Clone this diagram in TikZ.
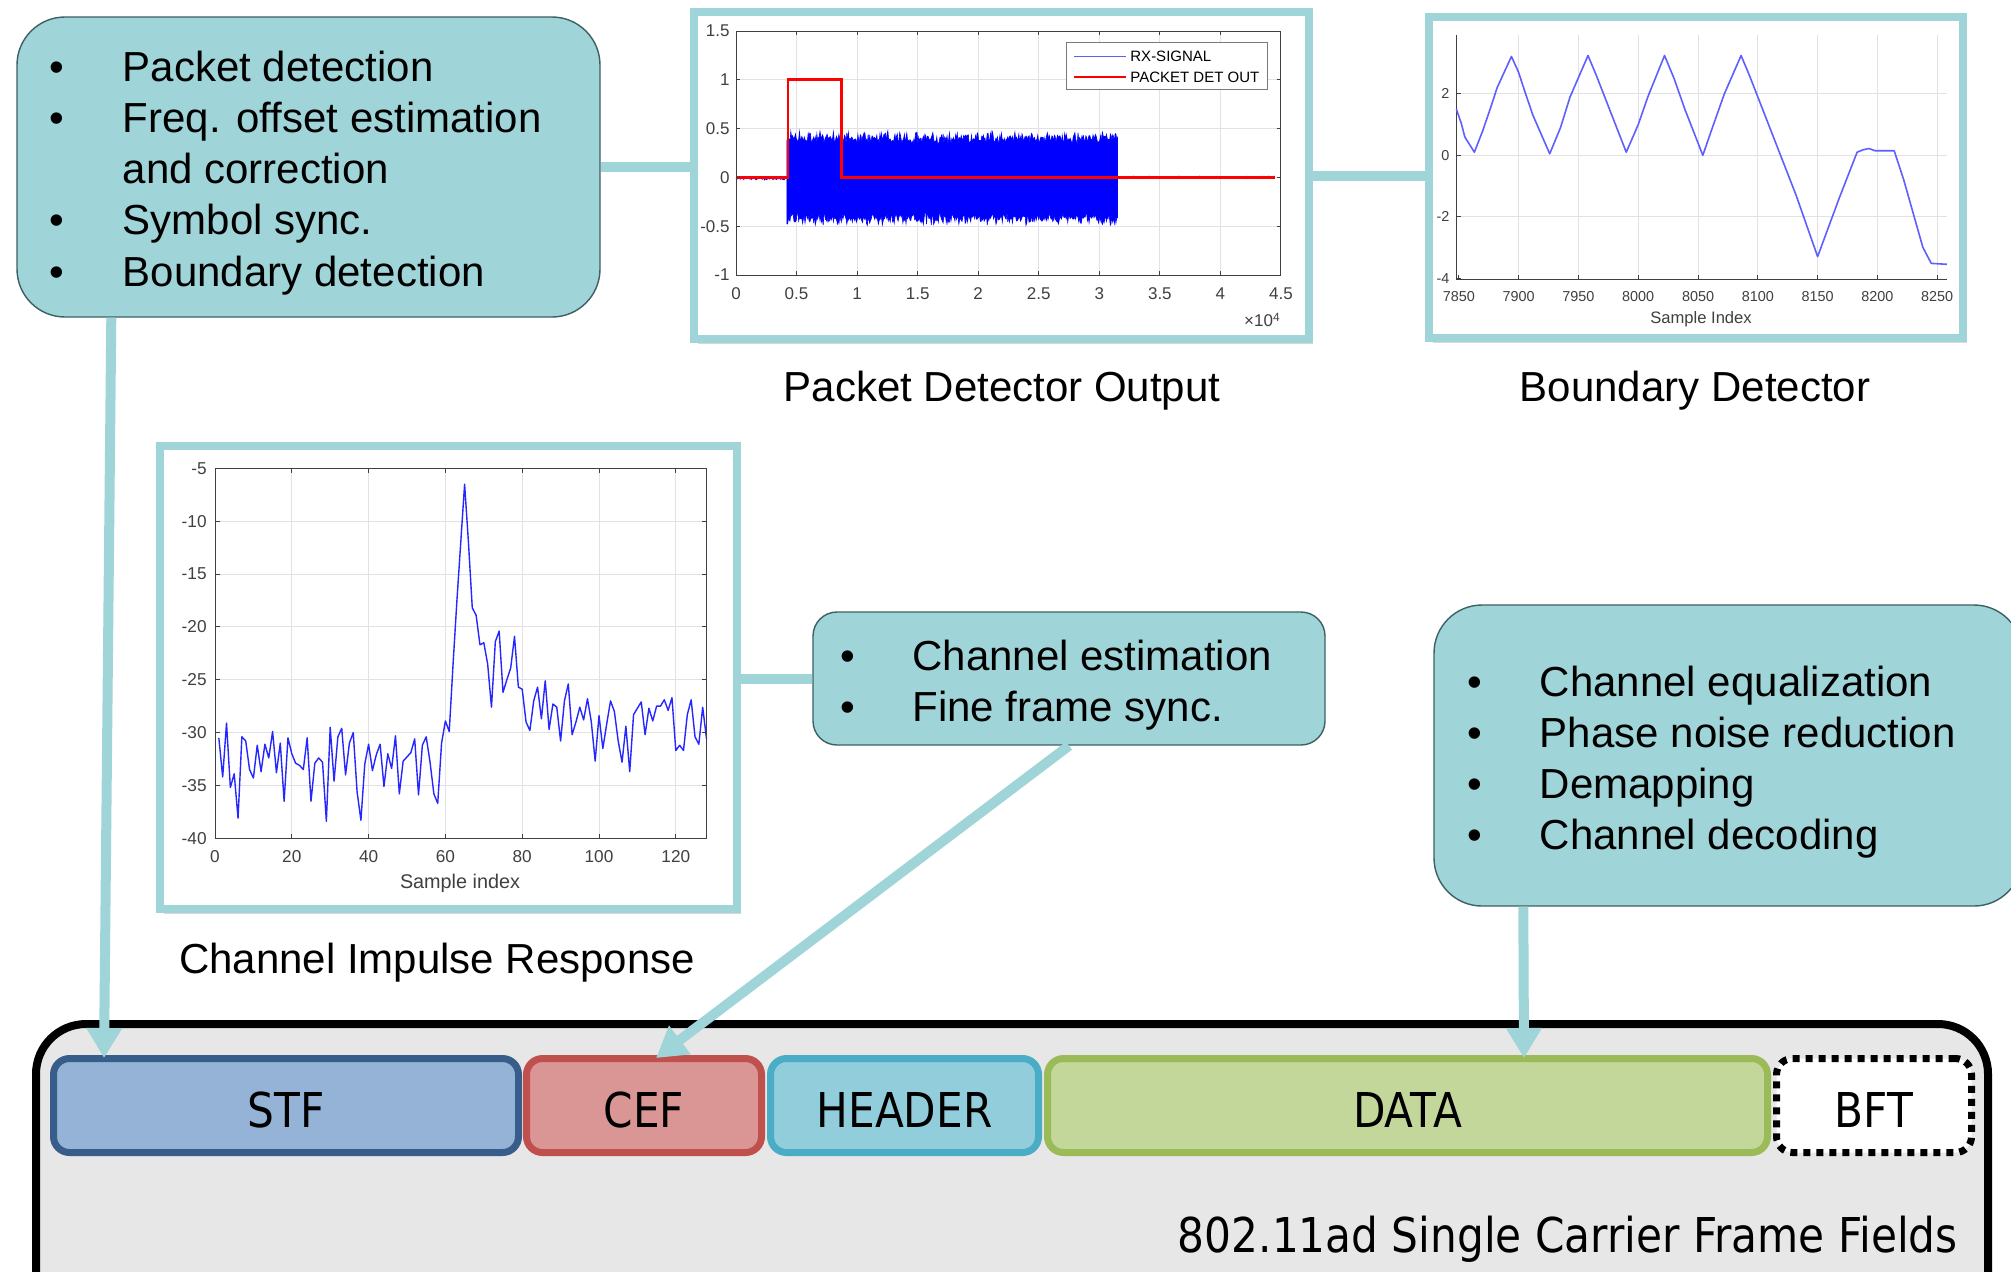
\documentclass[tikz,border=0pt]{standalone}
\usepackage{fontspec}
\setmainfont{Liberation Sans}
\newfontfamily\fieldfont[FakeStretch=0.88]{DejaVu Sans}
\usetikzlibrary{arrows.meta,calc,shadows}
\definecolor{teal1}{RGB}{159,212,216}
\definecolor{bubbleedge}{RGB}{60,96,100}
\definecolor{stfF}{RGB}{149,179,215}
\definecolor{stfD}{RGB}{56,93,138}
\definecolor{cefF}{RGB}{218,150,148}
\definecolor{cefD}{RGB}{192,80,77}
\definecolor{hdrF}{RGB}{146,205,220}
\definecolor{hdrD}{RGB}{75,172,198}
\definecolor{datF}{RGB}{196,215,155}
\definecolor{datD}{RGB}{155,187,89}
\definecolor{framebg}{RGB}{231,231,231}
\definecolor{axgray}{RGB}{64,64,64}
\definecolor{gridgray}{RGB}{226,226,226}
\definecolor{sigblue}{RGB}{0,0,255}
\definecolor{lightsig}{RGB}{95,95,255}
\begin{document}
\begin{tikzpicture}[x=0.5pt,y=-0.5pt,
  bubble/.style={draw=bubbleedge, line width=0.7pt, fill=teal1, inner sep=0pt},
  btext/.style={inner sep=0pt, anchor=north west, font=\fontsize{21}{25.6}\selectfont},
  plotframe/.style={draw=teal1, line width=4pt, fill=white, inner sep=0pt,
     drop shadow={shadow xshift=2pt, shadow yshift=-2.5pt, opacity=0.3}},
  field/.style={line width=3.5pt, rounded corners=8pt, minimum height=47pt, inner sep=0pt,
     font=\fieldfont\fontsize{24}{28}\selectfont, text height=22pt, text depth=0pt},
  link/.style={draw=teal1, line width=5pt},
  arr/.style={draw=teal1, line width=5pt, -{Triangle[length=15pt,width=17pt]}},
  capt/.style={inner sep=0pt, anchor=base, font=\fontsize{21}{25}\selectfont},
  grid line/.style={draw=gridgray, line width=0.5pt},
  axis line/.style={draw=axgray, line width=0.5pt}
]
\useasboundingbox (0,0) rectangle (2011,1271);
\clip (0,0) rectangle (2011,1271);
\fill[white] (0,0) rectangle (2011,1271);

% ---------- frame container ----------
\draw[line width=4pt, fill=framebg, rounded corners=25pt] (36,1024) rectangle (1988,1340);
\node[field, draw=stfD, fill=stfF, minimum width=232.5pt] (stf) at (286,1105.5) {STF};
\node[field, draw=cefD, fill=cefF, minimum width=117.5pt] (cef) at (644,1105.5) {CEF};
\node[field, draw=hdrD, fill=hdrF, minimum width=134pt] (hdr) at (904.5,1105.5) {HEADER};
\node[field, draw=datD, fill=datF, minimum width=360pt] (dat) at (1407.5,1105.5) {DATA};
\node[field, draw=black, fill=white, dash pattern=on 3.5pt off 3pt, minimum width=97.5pt] (bft) at (1874,1105.5) {BFT};
\node[inner sep=0pt, anchor=base east, font=\fieldfont\fontsize{24}{28}\selectfont] (sclab) at (1958,1252.5) {802.11ad Single Carrier Frame Fields};

% ---------- plot frames ----------
\node[plotframe, minimum width=307.5pt, minimum height=163.5pt] (pd) at (1001.5,175.5) {};
\node[plotframe, minimum width=267pt, minimum height=160.5pt] (bd) at (1696,177.5) {};
\node[plotframe, minimum width=288.5pt, minimum height=231.5pt] (cir) at (448.5,677.5) {};

% ---------- packet detector plot ----------
\begin{scope}[shift={(368pt,-88.7pt)}, x=60.55pt, y=48.8pt,
  ticklab/.style={inner sep=0pt, text=axgray, font=\fontsize{8.5}{9}\selectfont}]
  \foreach \gx in {0.5,1,1.5,2,2.5,3,3.5,4} \draw[grid line] (\gx,-1) -- (\gx,1.5);
  \foreach \gy in {-0.5,0,0.5,1} \draw[grid line] (0,\gy) -- (4.5,\gy);
  \pgfmathsetseed{7}
  \draw[sigblue, line width=0.4pt] plot[domain=0:0.42, samples=60] (\x,{-0.012+0.012*rand});
  \filldraw[sigblue, line width=0.3pt] plot[domain=0.42:3.15, samples=420] (\x,{0.40+0.045*rand+0.035*rand})
     -- plot[domain=3.15:0.42, samples=420] (\x,{-0.42+0.045*rand+0.035*rand}) -- cycle;
  \draw[sigblue, line width=0.4pt] plot[domain=3.15:4.45, samples=160] (\x,{0.012*rand});
  \draw[red, line width=1.4pt] (0,0) -- (0.43,0) -- (0.43,1) -- (0.87,1) -- (0.87,0) -- (4.45,0);
  \draw[axis line] (0,-1) rectangle (4.5,1.5);
  \foreach \gx in {0,0.5,1,1.5,2,2.5,3,3.5,4,4.5} {
    \draw[axis line] (\gx,-1) -- ++(0,0.04);
    \draw[axis line] (\gx,1.5) -- ++(0,-0.04);
    \node[ticklab, anchor=north] at ([yshift=-6pt]\gx,-1) {\gx};
  }
  \foreach \gy in {-1,-0.5,0,0.5,1,1.5} {
    \draw[axis line] (0,\gy) -- ++(0.03,0);
    \draw[axis line] (4.5,\gy) -- ++(-0.03,0);
    \node[ticklab, anchor=east] at ([xshift=-3pt]0,\gy) {\gy};
  }
\end{scope}
\node[draw=axgray!70, line width=0.5pt, fill=white, minimum width=100.5pt, minimum height=23.5pt, inner sep=0pt] (leg) at (1166.5,65.5) {};
\draw[lightsig, line width=0.5pt] (1074,56) -- (1126,56);
\node[inner sep=0pt, anchor=west, font=\fontsize{7.5}{9}\selectfont] (legt1) at (1130,56) {RX-SIGNAL};
\draw[red, line width=1.4pt] (1074,77) -- (1126,77);
\node[inner sep=0pt, anchor=west, font=\fontsize{7.5}{9}\selectfont] (legt2) at (1130,77) {PACKET DET OUT};
\node[inner sep=0pt, anchor=east, text=axgray, font=\fontsize{8.5}{9}\selectfont] (xexp) at (1281,320) {×10\textsuperscript{4}};

% ---------- boundary detector plot ----------
\begin{scope}[shift={(729.4pt,-77.65pt)}, x=0.598pt, y=15.35pt,
  ticklab/.style={inner sep=0pt, text=axgray, font=\fontsize{7.2}{8}\selectfont}]
  \foreach \gx in {50,100,150,200,250,300,350,400} \draw[grid line] (\gx,-4.04) -- (\gx,3.92);
  \foreach \gy in {-2,0,2} \draw[grid line] (-2,\gy) -- (408,\gy);
  \draw[axis line] (-2,3.92) -- (-2,-4.04) -- (408,-4.04);
  \foreach \gx/\lab in {0/7850,50/7900,100/7950,150/8000,200/8050,250/8100,300/8150,350/8200,400/8250} {
    \draw[axis line] (\gx,-4.04) -- ++(0,0.13);
    \node[ticklab, anchor=north] at ([yshift=-6pt]\gx,-4.04) {\lab};
  }
  \foreach \gy in {-4,-2,0,2} {
    \draw[axis line] (-2,\gy) -- ++(4,0);
    \node[ticklab, anchor=east] at ([xshift=-3.3pt]-2,\gy) {\gy};
  }
  \draw[lightsig, line width=0.8pt, line join=round] (-2,1.5) -- (2,1.05) -- (5,0.6) -- (13,0.1) -- (20,0.8) -- (27,1.6)
    -- (32,2.2) -- (44,3.22) -- (50,2.7) -- (55,2.1) -- (62,1.3) -- (76,0.05) -- (85,0.9) -- (93,1.9)
    -- (108,3.25) -- (115,2.6) -- (126,1.5) -- (140,0.1) -- (150,1.0) -- (158,1.9) -- (172,3.25)
    -- (180,2.5) -- (189,1.5) -- (204,0.0) -- (212,0.9) -- (222,2.0) -- (236,3.25) -- (243,2.6)
    -- (262,0.7) -- (282,-1.3) -- (300,-3.3) -- (318,-1.4) -- (333,0.1) -- (338,0.18) -- (343,0.22)
    -- (348,0.15) -- (364,0.15) -- (372,-0.8) -- (380,-1.9) -- (388,-3.0) -- (395,-3.52) -- (408,-3.55);
\end{scope}
\node[inner sep=0pt, text=axgray, font=\fontsize{8.3}{9}\selectfont] (bdx) at (1701,319) {Sample Index};

% ---------- channel impulse response plot ----------
\begin{scope}[shift={(107.5pt,-207.725pt)}, x=1.92pt, y=5.285pt,
  ticklab/.style={inner sep=0pt, text=axgray, font=\fontsize{8.6}{9}\selectfont}]
  \foreach \gx in {20,40,60,80,100,120} \draw[grid line] (\gx,-40) -- (\gx,-5);
  \foreach \gy in {-35,-30,-25,-20,-15,-10} \draw[grid line] (0,\gy) -- (128,\gy);
  \draw[sigblue!85!white, line width=0.7pt, line join=round] plot coordinates {
   (1,-30.5) (2,-34.2) (3,-29.1) (4,-35.2) (5,-33.9) (6,-38.1) (7,-30.4) (8,-30.8) (9,-33.5) (10,-34.3)
   (11,-31.2) (12,-33.7) (13,-31.1) (14,-32.4) (15,-29.9) (16,-33.8) (17,-31.0) (18,-36.5) (19,-30.5) (20,-32.0)
   (21,-32.9) (22,-33.1) (23,-33.5) (24,-30.5) (25,-36.5) (26,-32.9) (27,-32.4) (28,-32.8) (29,-38.4) (30,-29.5)
   (31,-34.6) (32,-30.4) (33,-29.6) (34,-34.0) (35,-31.0) (36,-30.0) (37,-35.6) (38,-38.3) (39,-33.0) (40,-31.1)
   (41,-33.6) (42,-32.1) (43,-31.1) (44,-35.1) (45,-32.0) (46,-33.4) (47,-30.3) (48,-35.8) (49,-32.7) (50,-32.3)
   (51,-31.9) (52,-30.6) (53,-35.9) (54,-31.2) (55,-30.4) (56,-32.8) (57,-35.8) (58,-36.7) (59,-31.0) (60,-28.9)
   (61,-29.9) (62,-23.5) (63,-17.5) (64,-12.0) (65,-6.5) (66,-12.0) (67,-18.2) (68,-18.9) (69,-21.7) (70,-21.5)
   (71,-23.5) (72,-27.6) (73,-21.4) (74,-20.4) (75,-26.2) (76,-25.0) (77,-23.9) (78,-20.9) (79,-25.7) (80,-25.9)
   (81,-29.0) (82,-29.8) (83,-27.0) (84,-25.7) (85,-28.7) (86,-25.1) (87,-29.7) (88,-27.3) (89,-27.6) (90,-30.8)
   (91,-27.0) (92,-25.4) (93,-30.2) (94,-29.0) (95,-27.6) (96,-28.8) (97,-26.8) (98,-29.0) (99,-32.7) (100,-28.4)
   (101,-31.5) (102,-29.2) (103,-27.0) (104,-28.0) (105,-30.8) (106,-32.8) (107,-29.4) (108,-33.7) (109,-28.3) (110,-27.7)
   (111,-27.1) (112,-30.2) (113,-27.7) (114,-28.9) (115,-27.5) (116,-27.5) (117,-26.9) (118,-27.9) (119,-26.7) (120,-31.7)
   (121,-31.2) (122,-31.7) (123,-28.3) (124,-26.9) (125,-30.4) (126,-31.1) (127,-27.6) (128,-30.6)};
  \draw[axis line] (0,-40) rectangle (128,-5);
  \foreach \gx in {0,20,40,60,80,100,120} {
    \draw[axis line] (\gx,-40) -- ++(0,0.4);
    \draw[axis line] (\gx,-5) -- ++(0,-0.4);
    \node[ticklab, anchor=north] at ([yshift=-6pt]\gx,-40) {\gx};
  }
  \foreach \gy in {-40,-35,-30,-25,-20,-15,-10,-5} {
    \draw[axis line] (0,\gy) -- ++(1.2,0);
    \draw[axis line] (128,\gy) -- ++(-1.2,0);
    \node[ticklab, anchor=east] at ([xshift=-4pt]0,\gy) {\gy};
  }
\end{scope}
\node[inner sep=0pt, text=axgray, font=\fontsize{9.9}{11}\selectfont] (cirx) at (460,883) {Sample index};

% ---------- captions ----------
\node[capt] (cap1) at (1002,401) {Packet Detector Output};
\node[capt] (cap2) at (1695,401) {Boundary Detector};
\node[capt] (cap3) at (437,973) {Channel Impulse Response};

% ---------- bubbles ----------
\node[bubble, rounded corners=24pt, minimum width=291.5pt, minimum height=150pt] (b1) at (308.5,167) {};
\node[btext] (b1t) at (49.5,45) {\begin{tabular}{@{}p{36.5pt}@{}l@{}}
\textbullet & Packet detection\\
\textbullet & Freq. offset estimation\\
 & and correction\\
\textbullet & Symbol sync.\\
\textbullet & Boundary detection
\end{tabular}};

\node[bubble, rounded corners=12pt, minimum width=256pt, minimum height=66.5pt] (mb) at (1069,678.5) {};
\node[btext] (mbt) at (840,634) {\begin{tabular}{@{}p{36pt}@{}l@{}}
\textbullet & Channel estimation\\
\textbullet & Fine frame sync.
\end{tabular}};

\node[bubble, rounded corners=24pt, minimum width=294pt, minimum height=150.5pt] (rb) at (1728,755.5) {};
\node[btext] (rbt) at (1467.5,660) {\begin{tabular}{@{}p{36pt}@{}l@{}}
\textbullet & Channel equalization\\
\textbullet & Phase noise reduction\\
\textbullet & Demapping\\
\textbullet & Channel decoding
\end{tabular}};

% ---------- connectors ----------
\draw[link] (b1.east) -- (b1.east -| pd.west);
\draw[link] (pd.east) -- (pd.east -| bd.west);
\draw[link] (mb.west) -- (mb.west -| cir.east);
\draw[arr] ($(b1.south west)+(95,0)$) -- ($(stf.north west)+(54,3)$);
\draw[arr] (mb.south) -- ($(cef.north)+(12,3)$);
\draw[arr] ($(rb.south west)+(90,0)$) -- ($(dat.north west)+(480,3)$);
\end{tikzpicture}
\end{document}
